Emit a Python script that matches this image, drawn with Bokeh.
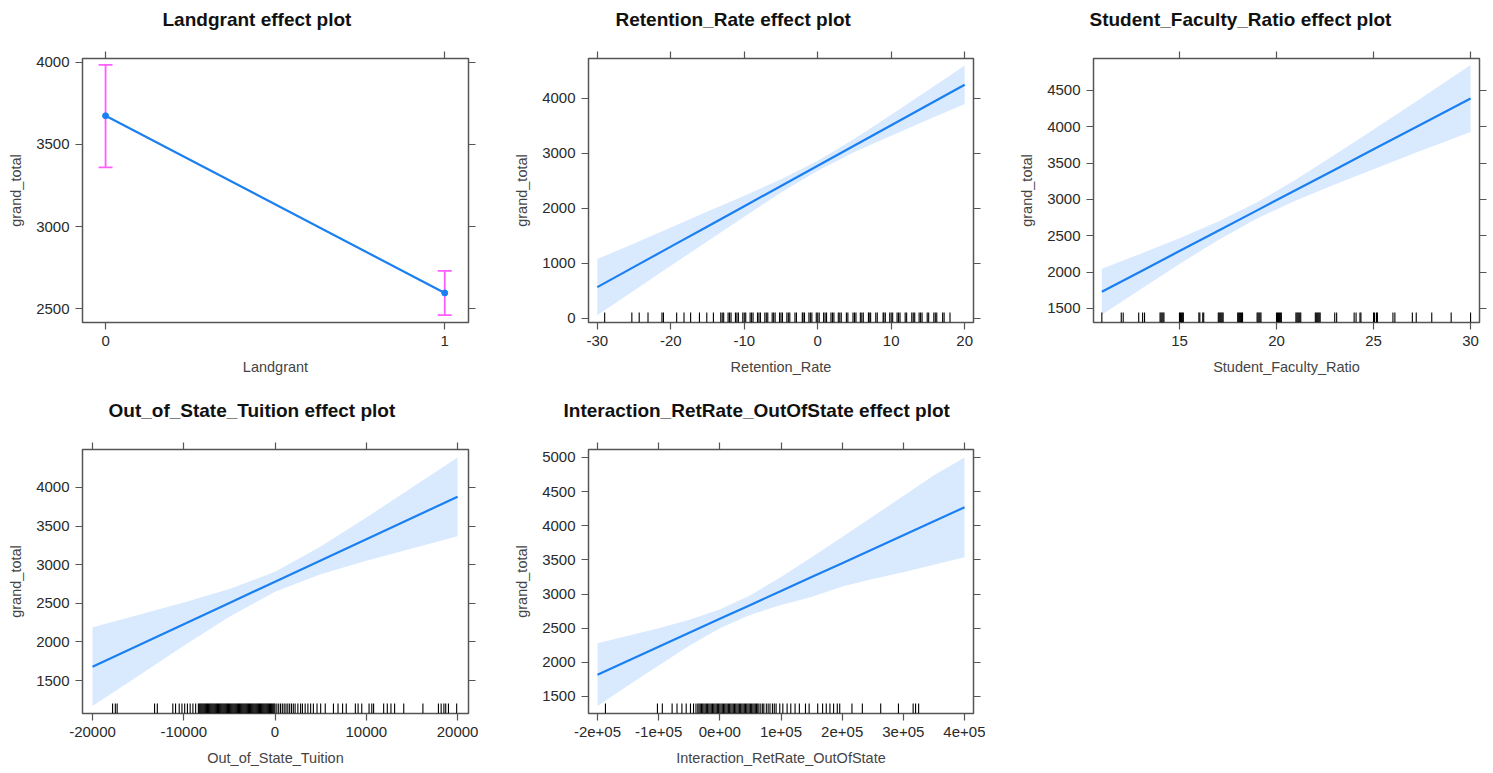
from bokeh.plotting import figure
from bokeh.models import Range1d, FixedTicker, LinearAxis, CustomJSTickFormatter
from bokeh.layouts import column, row
from bokeh.embed import file_html
from bokeh.resources import INLINE

FONT = "Liberation Sans"
BLUE = "#1a7ff0"
BAND = "#d9eaff"
PINK = "#ff5eff"
FRAME = "#555555"

# ---------------- data ----------------
# Landgrant
lg_x = [0, 1]
lg_fit = [3675, 2595]
lg_lower = [3360, 2460]
lg_upper = [3985, 2730]

# Retention_Rate
rr_x = [-30, -25, -20, -15, -10, -5, 0, 5, 10, 15, 20]
rr_fit = [570, 938, 1306, 1674, 2042, 2410, 2778, 3146, 3514, 3882, 4250]
rr_lower = [60, 511, 958, 1404, 1852, 2290, 2688, 3026, 3324, 3612, 3900]
rr_upper = [1080, 1365, 1654, 1944, 2232, 2530, 2868, 3266, 3704, 4152, 4600]
rr_rug = [-29, -25.3, -24.3, -23.1, -21.2, -21.0, -19.2, -18.2, -17.3, -16.1, -15.1, -14.2,
          -13.2, -13.0, -12.8, -12.2, -12.0, -11.8, -11.2, -11.0, -10.8, -10.2, -10.0, -9.8,
          -9.2, -9.0, -8.8, -8.2, -8.0, -7.8, -7.2, -7.0, -6.8, -6.2, -6.0, -5.8, -5.2, -5.0,
          -4.8, -4.2, -4.0, -3.8, -3.1, -2.9, -2.1, -2.0, -1.8, -1.2, -1.0, -0.8, -0.2, 0.0,
          0.2, 0.8, 1.0, 1.2, 1.8, 2.0, 2.2, 2.8, 3.0, 3.2, 3.9, 4.1, 4.8, 5.0, 5.2, 5.8, 6.0,
          6.2, 6.9, 7.0, 7.2, 7.9, 8.1, 8.9, 9.0, 9.2, 9.8, 10.0, 10.2, 10.8, 11.0, 11.2, 11.9,
          12.1, 12.8, 13.0, 13.2, 13.8, 14.0, 14.2, 14.9, 15.1, 15.8, 16.0, 16.2, 17.0, 17.2,
          18.0]

# Student_Faculty_Ratio
sf_x = [11, 13, 15, 17, 19, 21, 23, 25, 27, 30]
sf_fit = [1730, 2010, 2290, 2570, 2850, 3130, 3410, 3690, 3970, 4390]
sf_lower = [1415, 1766, 2112, 2444, 2739, 2986, 3206, 3417, 3625, 3930]
sf_upper = [2045, 2254, 2468, 2696, 2961, 3274, 3614, 3963, 4315, 4850]
sf_rug = [11, 12, 12.1, 12.9, 13.1, 13.2, 14, 14.05, 14.1, 14.15, 14.2, 15, 15.05, 15.1,
          15.15, 15.2, 16, 16.05, 16.2, 16.25, 17, 17.05, 17.1, 17.15, 17.2, 17.25, 18, 18.05,
          18.1, 18.15, 18.2, 18.25, 19, 19.05, 19.1, 19.15, 19.2, 20, 20.05, 20.1, 20.15, 20.2,
          20.25, 21, 21.05, 21.1, 21.15, 21.2, 21.25, 22, 22.05, 22.1, 22.15, 22.2, 22.25, 23,
          23.1, 24, 24.1, 24.3, 24.35, 25, 25.05, 25.15, 25.2, 26, 26.1, 27, 27.2, 28, 29, 30]

# Out_of_State_Tuition
ot_x = [-20000, -15000, -10000, -5000, 0, 5000, 10000, 15000, 20000]
ot_fit = [1680, 1955, 2230, 2505, 2780, 3055, 3330, 3605, 3880]
ot_lower = [1170, 1560, 1950, 2325, 2650, 2875, 3050, 3210, 3370]
ot_upper = [2190, 2350, 2510, 2685, 2910, 3235, 3610, 4000, 4390]
ot_rug = [-17800, -17500, -17300, -13200, -12900, -11200, -10900, -10500, -10200, -9900, -9600,
          -9300, -9000, -8700, -8400, -8300, -8200, -8100, -8000, -7900, -7800, -7700, -7600,
          -7500, -7400, -7300, -7200, -7100, -7000, -6900, -6800, -6700, -6600, -6500, -6400,
          -6300, -6200, -6100, -6000, -5900, -5800, -5700, -5600, -5500, -5400, -5300, -5200,
          -5100, -5000, -4900, -4800, -4700, -4600, -4500, -4400, -4300, -4200, -4100, -4000,
          -3900, -3800, -3700, -3600, -3500, -3400, -3300, -3200, -3100, -3000, -2900, -2800,
          -2700, -2600, -2500, -2400, -2300, -2200, -2100, -2000, -1900, -1800, -1700, -1600,
          -1500, -1400, -1300, -1200, -1100, -1000, -900, -800, -700, -600, -500, -400, -300,
          -200, -100, 0, 200, 400, 600, 800, 1000, 1200, 1400, 1600, 1800, 2000, 2200, 2500,
          2800, 3000, 3300, 3600, 3900, 4200, 4600, 5000, 5500, 6400, 6900, 7400, 7800, 8800,
          9100, 9500, 10300, 10600, 10800, 11900, 12300, 12700, 13100, 14100, 16200, 17900,
          18200, 18500, 18700, 19000, 19900]

# Interaction_RetRate_OutOfState
ia_x = [-200000, -150000, -100000, -50000, 0, 50000, 100000, 150000, 200000, 250000, 300000,
        350000, 400000]
ia_fit = [1820, 2024, 2228, 2433, 2637, 2841, 3045, 3249, 3453, 3658, 3862, 4066, 4270]
ia_lower = [1361, 1660, 1955, 2242, 2501, 2698, 2839, 2958, 3110, 3220, 3320, 3430, 3540]
ia_upper = [2279, 2388, 2501, 2624, 2773, 2984, 3251, 3540, 3836, 4136, 4437, 4739, 5000]
ia_rug = [-187000, -102000, -94000, -78000, -70000, -62000, -55000, -48000, -43000, -39000,
          -36000, -34000, -32000, -30000, -28000, -26000, -24000, -22000, -20000, -18000,
          -16000, -14000, -12000, -10000, -8000, -6000, -4000, -2000, 0, 2000, 4000, 6000,
          8000, 10000, 12000, 14000, 16000, 18000, 20000, 22000, 24000, 26000, 28000, 30000,
          32000, 34000, 36000, 38000, 40000, 42000, 44000, 46000, 48000, 50000, 52000, 54000,
          56000, 58000, 60000, 62000, 64000, 67000, 70000, 72000, 76000, 79000, 82000, 86000,
          89000, 92000, 98000, 103000, 110000, 116000, 123000, 130000, 140000, 146000, 160000,
          168000, 174000, 180000, 186000, 192000, 196000, 216000, 233000, 263000, 292000,
          316000, 320000, 325000]

# ticks
lg_xticks = [0, 1]; lg_xlabels = ["0", "1"]
lg_yticks = [2500, 3000, 3500, 4000]; lg_ylabels = ["2500", "3000", "3500", "4000"]
rr_xticks = [-30, -20, -10, 0, 10, 20]; rr_xlabels = ["-30", "-20", "-10", "0", "10", "20"]
rr_yticks = [0, 1000, 2000, 3000, 4000]; rr_ylabels = ["0", "1000", "2000", "3000", "4000"]
sf_xticks = [15, 20, 25, 30]; sf_xlabels = ["15", "20", "25", "30"]
sf_yticks = [1500, 2000, 2500, 3000, 3500, 4000, 4500]
sf_ylabels = ["1500", "2000", "2500", "3000", "3500", "4000", "4500"]
ot_xticks = [-20000, -10000, 0, 10000, 20000]
ot_xlabels = ["-20000", "-10000", "0", "10000", "20000"]
ot_yticks = [1500, 2000, 2500, 3000, 3500, 4000]
ot_ylabels = ["1500", "2000", "2500", "3000", "3500", "4000"]
ia_xticks = [-200000, -100000, 0, 100000, 200000, 300000, 400000]
ia_xlabels = ["-2e+05", "-1e+05", "0e+00", "1e+05", "2e+05", "3e+05", "4e+05"]
ia_yticks = [1500, 2000, 2500, 3000, 3500, 4000, 4500, 5000]
ia_ylabels = ["1500", "2000", "2500", "3000", "3500", "4000", "4500", "5000"]


def make_panel(title, title_offset, width, height, bl, br, bt, bb,
               xr, yr, xt, xl, yt, yl, xlabel):
    p = figure(width=width, height=height, output_backend="svg", toolbar_location=None,
               x_range=Range1d(*xr), y_range=Range1d(*yr),
               min_border_left=bl, min_border_right=br, min_border_top=bt, min_border_bottom=bb,
               background_fill_color="white", border_fill_color="white")
    # trailing empty line lifts the title text away from the frame
    p.title.text = title + "\n"
    p.title.align = "left"
    p.title.offset = title_offset
    p.title.text_font = FONT
    p.title.text_font_size = "19px"
    p.title.text_font_style = "bold"
    p.title.text_color = "#111111"
    p.title.standoff = 2

    p.xgrid.visible = False
    p.ygrid.visible = False
    p.outline_line_color = FRAME
    p.outline_line_width = 1.5
    p.outline_line_alpha = 1.0

    for ax, ticks, labels in ((p.xaxis[0], xt, xl), (p.yaxis[0], yt, yl)):
        ax.ticker = FixedTicker(ticks=ticks)
        ax.major_label_overrides = {t: s for t, s in zip(ticks, labels)}
        ax.minor_tick_line_color = None
        ax.major_tick_in = 0
        ax.major_tick_out = 7
        ax.major_tick_line_color = FRAME
        ax.major_tick_line_width = 1.2
        ax.axis_line_color = None
        ax.major_label_text_font = FONT
        ax.major_label_text_font_size = "15px"
        ax.major_label_text_color = "#2a2a2a"
        ax.axis_label_text_font = FONT
        ax.axis_label_text_font_size = "14.5px"
        ax.axis_label_text_font_style = "normal"
        ax.axis_label_text_color = "#444444"
    p.xaxis[0].axis_label = xlabel
    p.yaxis[0].axis_label = "grand_total"
    p.xaxis[0].major_label_standoff = 6
    p.yaxis[0].major_label_standoff = 6
    p.xaxis[0].axis_label_standoff = 10
    p.yaxis[0].axis_label_standoff = 9

    for side, ticks in (("above", xt), ("right", yt)):
        ax = LinearAxis(ticker=FixedTicker(ticks=ticks),
                        formatter=CustomJSTickFormatter(code="return ''"))
        ax.minor_tick_line_color = None
        ax.major_tick_in = 0
        ax.major_tick_out = 7
        ax.major_tick_line_color = FRAME
        ax.major_tick_line_width = 1.2
        ax.axis_line_color = None
        ax.major_label_standoff = 0
        ax.major_label_text_font_size = "1px"
        p.add_layout(ax, side)
    return p


def add_rug(p, rug, yr):
    h = (yr[1] - yr[0]) * 10.0 / 264.0
    p.segment(x0=rug, y0=[yr[0]] * len(rug), x1=rug, y1=[yr[0] + h] * len(rug),
              line_color="black", line_width=1.1)


def add_effect(p, x, fit, lo, up):
    p.varea(x=x, y1=lo, y2=up, fill_color=BAND, fill_alpha=1.0)
    p.line(x, fit, line_color=BLUE, line_width=2.2)


# Panel 1: Landgrant
yr1 = (2415, 4024)
p1 = make_panel("Landgrant effect plot", 80, 490, 390, 82, 22, 58, 68,
                (-0.068, 1.07), yr1, lg_xticks, lg_xlabels, lg_yticks, lg_ylabels, "Landgrant")
p1.segment(x0=lg_x, y0=lg_lower, x1=lg_x, y1=lg_upper, line_color=PINK, line_width=1.8)
p1.scatter(x=lg_x + lg_x, y=lg_lower + lg_upper, marker="dash", size=14,
           line_color=PINK, line_width=1.8)
p1.line(lg_x, lg_fit, line_color=BLUE, line_width=2.2)
p1.scatter(lg_x, lg_fit, size=6, fill_color=BLUE, line_color=BLUE)

# Panel 2: Retention_Rate
yr2 = (-73, 4727)
p2 = make_panel("Retention_Rate effect plot", 27, 495, 390, 98, 12, 58, 68,
                (-31.2, 21.2), yr2, rr_xticks, rr_xlabels, rr_yticks, rr_ylabels, "Retention_Rate")
add_effect(p2, rr_x, rr_fit, rr_lower, rr_upper)
add_rug(p2, rr_rug, yr2)

# Panel 3: Student_Faculty_Ratio
yr3 = (1307, 4940)
p3 = make_panel("Student_Faculty_Ratio effect plot", -4, 508, 390, 108, 14, 58, 68,
                (10.57, 30.46), yr3, sf_xticks, sf_xlabels, sf_yticks, sf_ylabels,
                "Student_Faculty_Ratio")
add_effect(p3, sf_x, sf_fit, sf_lower, sf_upper)
add_rug(p3, sf_rug, yr3)

# Panel 4: Out_of_State_Tuition
yr4 = (1073, 4492)
p4 = make_panel("Out_of_State_Tuition effect plot", 26, 490, 383, 82, 22, 59, 60,
                (-21096, 21196), yr4, ot_xticks, ot_xlabels, ot_yticks, ot_ylabels,
                "Out_of_State_Tuition")
add_effect(p4, ot_x, ot_fit, ot_lower, ot_upper)
add_rug(p4, ot_rug, yr4)

# Panel 5: Interaction_RetRate_OutOfState
yr5 = (1251, 5117)
p5 = make_panel("Interaction_RetRate_OutOfState effect plot", -25, 495, 383, 98, 12, 59, 60,
                (-214700, 414700), yr5, ia_xticks, ia_xlabels, ia_yticks, ia_ylabels,
                "Interaction_RetRate_OutOfState")
add_effect(p5, ia_x, ia_fit, ia_lower, ia_upper)
add_rug(p5, ia_rug, yr5)

layout = column(row(p1, p2, p3), row(p4, p5))
open("out.html", "w").write(file_html(layout, INLINE))
